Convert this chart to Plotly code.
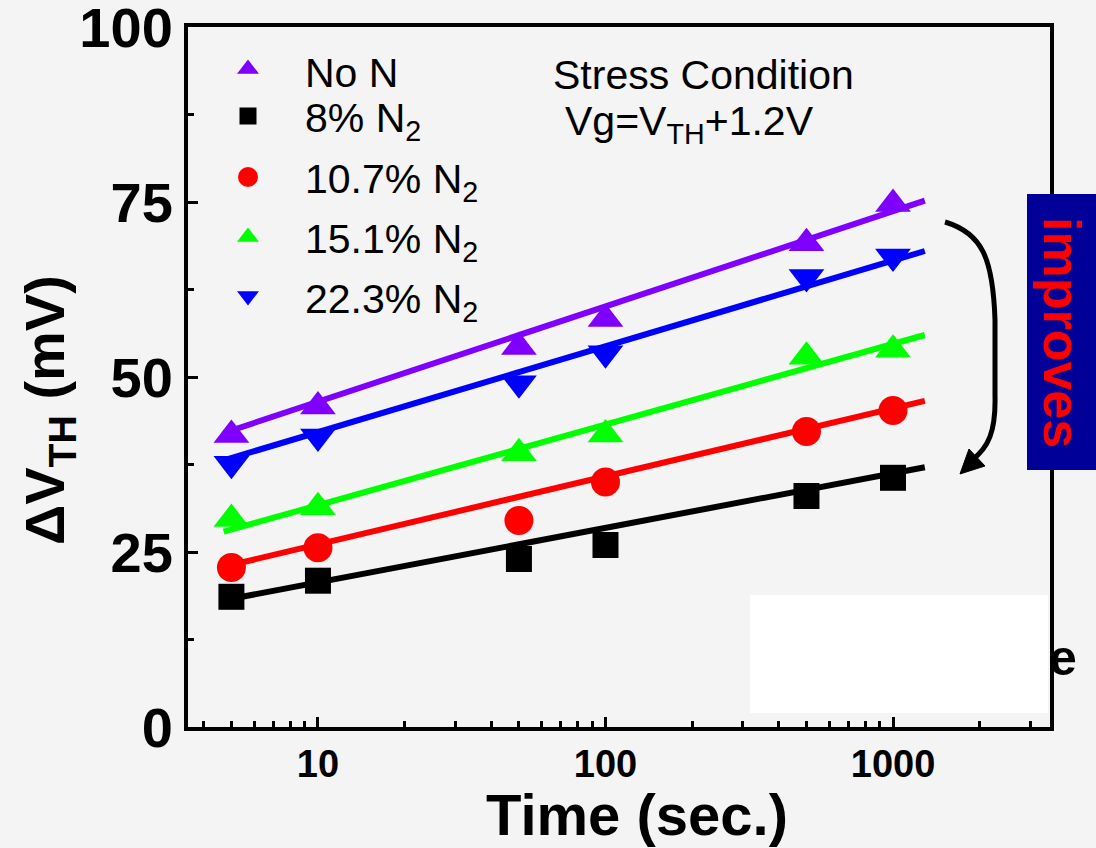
import plotly.graph_objects as go

# ---------------- data ----------------
times = [5, 10, 50, 100, 500, 1000]
dvth_no_n = [41.7, 45.8, 54.3, 58.3, 69.1, 74.7]
dvth_8 = [18.6, 20.9, 24.0, 26.0, 33.0, 35.6]
dvth_10_7 = [22.8, 25.6, 29.5, 35.0, 42.2, 45.2]
dvth_15_1 = [29.7, 31.4, 39.1, 41.8, 52.9, 53.9]
dvth_22_3 = [37.6, 41.5, 49.1, 53.4, 64.3, 67.2]

fit_t = [4.7, 1290]
fit_no_n = [42.0, 75.2]
fit_8 = [18.1, 37.1]
fit_10_7 = [22.9, 46.6]
fit_15_1 = [27.9, 56.0]
fit_22_3 = [38.1, 68.0]

series_names = ["No N", "8% N<sub>2</sub>", "10.7% N<sub>2</sub>", "15.1% N<sub>2</sub>", "22.3% N<sub>2</sub>"]
series_data = [dvth_no_n, dvth_8, dvth_10_7, dvth_15_1, dvth_22_3]
series_fits = [fit_no_n, fit_8, fit_10_7, fit_15_1, fit_22_3]
colors = ["#8000ff", "#000000", "#ff0000", "#00ff00", "#0000ff"]
symbols = ["triangle-up", "square", "circle", "triangle-up", "triangle-down"]
marker_sizes = [31, 26, 29, 31, 31]
legend_sizes = [19, 17, 20, 19, 19]

x_major = [10, 100, 1000]
x_minor = [4, 5, 6, 7, 8, 9, 20, 30, 40, 50, 60, 70, 80, 90,
           200, 300, 400, 500, 600, 700, 800, 900, 2000, 3000]
y_major = [0, 25, 50, 75, 100]

# ---------------- layout geometry ----------------
W, H = 1096, 848
L, R, T, B = 188, 1050, 27, 727
PW, PH = R - L, B - T


def px(xp, yp):
    return (xp - L) / PW, (B - yp) / PH


FONT = "Arial, 'Liberation Sans', sans-serif"
BG = "#f4f4f4"

fig = go.Figure()

# fit lines
for name, fit, c in zip(series_names, series_fits, colors):
    fig.add_trace(go.Scatter(x=fit_t, y=fit, mode="lines",
                             line=dict(color=c, width=6),
                             showlegend=False, hoverinfo="skip"))
# data markers
for name, d, c, s, ms in zip(series_names, series_data, colors, symbols, marker_sizes):
    fig.add_trace(go.Scatter(x=times, y=d, mode="markers", name=name,
                             marker=dict(color=c, symbol=s, size=ms, line=dict(width=0)),
                             showlegend=False))

# legend keys on an overlay (0..1) axis
legend_rows_y = [69, 116, 177, 237, 296]
legend_text_y = [73, 121, 182, 242, 302]
for name, c, s, ls, ry in zip(series_names, colors, symbols, legend_sizes, legend_rows_y):
    kx, ky = px(248, ry)
    fig.add_trace(go.Scatter(x=[kx], y=[ky], mode="markers", xaxis="x2", yaxis="y2",
                             marker=dict(color=c, symbol=s, size=ls, line=dict(width=0)),
                             showlegend=False, hoverinfo="skip"))

annotations = []
for name, ty in zip(series_names, legend_text_y):
    ax, ay = px(303, ty)
    annotations.append(dict(x=ax, y=ay, xref="paper", yref="paper", text=name,
                            showarrow=False, xanchor="left", yanchor="middle",
                            font=dict(family=FONT, size=41, color="black")))

ax, ay = px(551, 75)
annotations.append(dict(x=ax, y=ay, xref="paper", yref="paper", text="Stress Condition",
                        showarrow=False, xanchor="left", yanchor="middle",
                        font=dict(family=FONT, size=41, color="black")))
ax, ay = px(563, 124)
annotations.append(dict(x=ax, y=ay, xref="paper", yref="paper",
                        text="Vg=V<sub>TH</sub>+1.2V",
                        showarrow=False, xanchor="left", yanchor="middle",
                        font=dict(family=FONT, size=41, color="black")))

# axis titles
ax, ay = px(48, 410)
annotations.append(dict(x=ax, y=ay, xref="paper", yref="paper",
                        text="<b>ΔV<sub>TH</sub> (mV)</b>", textangle=-90,
                        showarrow=False, xanchor="center", yanchor="middle",
                        font=dict(family=FONT, size=56, color="black")))
ax, ay = px(637, 814)
annotations.append(dict(x=ax, y=ay, xref="paper", yref="paper",
                        text="<b>Time (sec.)</b>",
                        showarrow=False, xanchor="center", yanchor="middle",
                        font=dict(family=FONT, size=58, color="black")))

# "improves" box text
ax, ay = px(1062, 332)
annotations.append(dict(x=ax, y=ay, xref="paper", yref="paper",
                        text="<b>improves</b>", textangle=90,
                        showarrow=False, xanchor="center", yanchor="middle",
                        font=dict(family=FONT, size=52, color="#ff0000")))
# stray "e"
ax, ay = px(1063, 658)
annotations.append(dict(x=ax, y=ay, xref="paper", yref="paper",
                        text="<b>e</b>",
                        showarrow=False, xanchor="center", yanchor="middle",
                        font=dict(family=FONT, size=50, color="black")))

shapes = []
# blue box
x0, y0 = px(1027, 470)
x1, y1 = px(1100, 194)
shapes.append(dict(type="rect", xref="paper", yref="paper", x0=x0, y0=y0, x1=x1, y1=y1,
                   fillcolor="#000099", line=dict(width=0), layer="above"))
# white patch
x0, y0 = px(750, 713)
x1, y1 = px(1048, 595)
shapes.append(dict(type="rect", xref="paper", yref="paper", x0=x0, y0=y0, x1=x1, y1=y1,
                   fillcolor="#ffffff", line=dict(width=0), layer="above"))


def pth(points_cmds):
    out = []
    for cmd, pts in points_cmds:
        coords = " ".join("%.5f,%.5f" % px(a, b) for a, b in pts)
        out.append(cmd + coords)
    return " ".join(out)


arc = pth([("M", [(945, 222)]),
           ("C", [(982, 233), (993, 258), (995, 320)]),
           ("L", [(995, 395)]),
           ("C", [(996, 432), (988, 448), (972, 460)])])
shapes.append(dict(type="path", xref="paper", yref="paper", path=arc,
                   line=dict(color="black", width=5), layer="above"))
head = pth([("M", [(960, 474)]), ("L", [(969, 449)]), ("L", [(985, 466)])]) + " Z"
shapes.append(dict(type="path", xref="paper", yref="paper", path=head,
                   fillcolor="black", line=dict(color="black", width=1), layer="above"))

fig.update_layout(
    width=W, height=H,
    margin=dict(l=L, r=W - R, t=T, b=H - B, autoexpand=False),
    paper_bgcolor=BG, plot_bgcolor=BG,
    showlegend=False,
    font=dict(family=FONT, color="black"),
    xaxis=dict(type="log", range=[0.548, 3.546], showgrid=False, zeroline=False,
               showline=True, linewidth=4, linecolor="black", mirror=True,
               ticks="inside", ticklen=10, tickwidth=3, tickcolor="black",
               tickvals=x_major, ticktext=["<b>%d</b>" % v for v in x_major],
               tickfont=dict(family=FONT, size=38, color="black"),
               ticklabelstandoff=0, ticklabeloverflow="allow",
               minor=dict(ticks="inside", ticklen=6, tickwidth=3, tickcolor="black",
                          tickvals=x_minor, showgrid=False)),
    yaxis=dict(range=[0, 100], showgrid=False, zeroline=False,
               showline=True, linewidth=4, linecolor="black", mirror=True,
               ticks="inside", ticklen=10, tickwidth=3, tickcolor="black",
               tickvals=y_major, ticktext=["<b>%d</b>" % v for v in y_major],
               tickfont=dict(family=FONT, size=56, color="black"),
               ticklabelstandoff=0, ticklabeloverflow="allow",
               minor=dict(ticks="inside", ticklen=6, tickwidth=3, tickcolor="black",
                          dtick=12.5, showgrid=False)),
    xaxis2=dict(overlaying="x", range=[0, 1], visible=False, fixedrange=True),
    yaxis2=dict(overlaying="y", range=[0, 1], visible=False, fixedrange=True),
    annotations=annotations,
    shapes=shapes,
)

fig.write_html("out.html",
               config={"displayModeBar": False},
               post_script="document.body.style.margin='0';"
                           "document.body.style.background='%s';" % BG)
